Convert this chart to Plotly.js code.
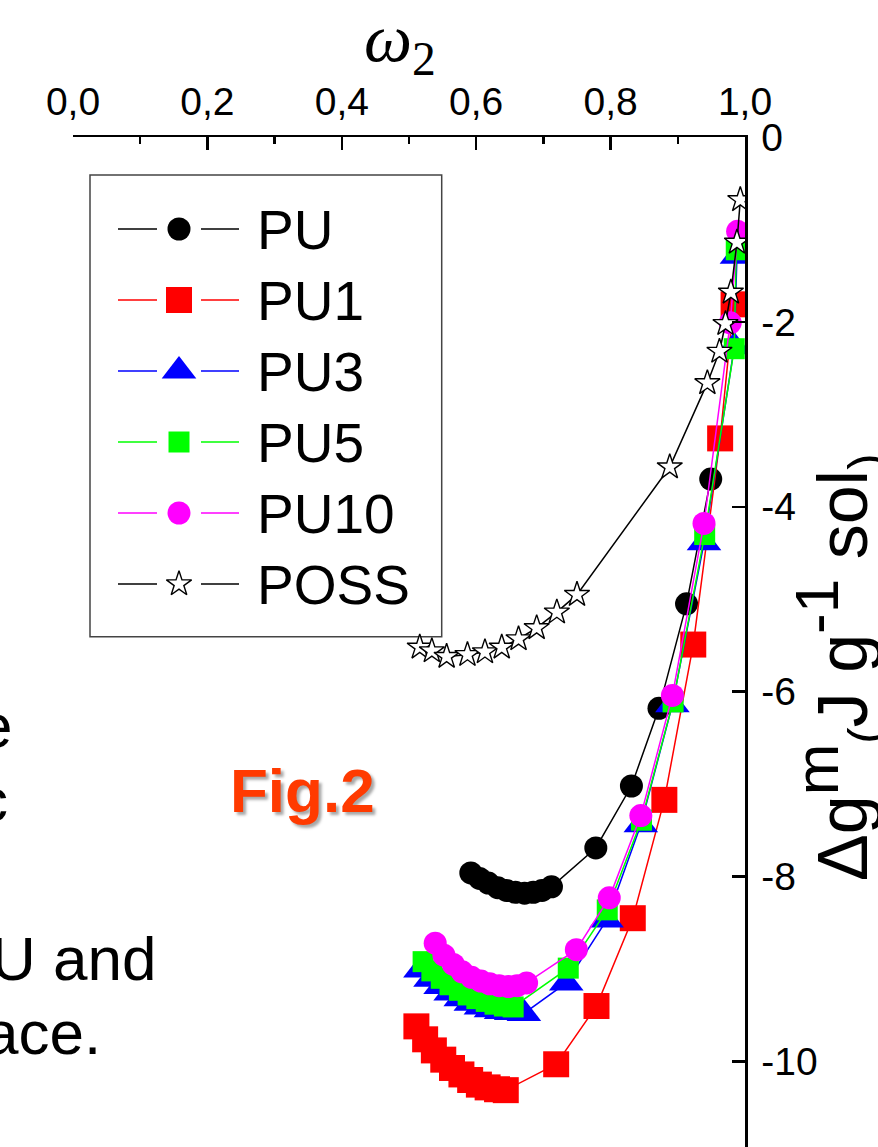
<!DOCTYPE html>
<html><head><meta charset="utf-8">
<script src="https://cdn.plot.ly/plotly-3.0.1.min.js"></script>
<style>html,body{margin:0;padding:0;background:#fff;overflow:hidden}#chart{width:878px;height:1147px}</style>
</head><body><div id="chart"></div>
<script>
// ---- data ----
const seriesNames = ['PU', 'PU1', 'PU3', 'PU5', 'PU10', 'POSS'];

const pu_w   = [0.592, 0.605, 0.618, 0.632, 0.645, 0.658, 0.672, 0.685, 0.698, 0.712, 0.778, 0.831, 0.872, 0.913, 0.949];
const pu_g   = [-7.96, -8.02, -8.07, -8.12, -8.15, -8.17, -8.18, -8.17, -8.15, -8.11, -7.69, -7.02, -6.18, -5.05, -3.70];

const pu1_w  = [0.511, 0.524, 0.537, 0.551, 0.564, 0.578, 0.591, 0.604, 0.617, 0.631, 0.644, 0.719, 0.779, 0.833, 0.880, 0.923, 0.963, 0.983];
const pu1_g  = [-9.62, -9.76, -9.88, -9.98, -10.07, -10.14, -10.20, -10.25, -10.28, -10.30, -10.31, -10.03, -9.40, -8.45, -7.17, -5.49, -3.26, -1.81];

const pu3_w  = [0.517, 0.532, 0.547, 0.562, 0.577, 0.592, 0.607, 0.622, 0.637, 0.652, 0.671, 0.734, 0.794, 0.845, 0.892, 0.939, 0.984, 0.988];
const pu3_g  = [-9.01, -9.11, -9.19, -9.26, -9.32, -9.37, -9.41, -9.44, -9.46, -9.47, -9.48, -9.15, -8.47, -7.44, -6.14, -4.39, -2.27, -1.29];

const pu5_w  = [0.521, 0.534, 0.548, 0.561, 0.575, 0.588, 0.601, 0.615, 0.628, 0.642, 0.655, 0.737, 0.795, 0.846, 0.893, 0.940, 0.984, 0.987];
const pu5_g  = [-8.92, -9.02, -9.10, -9.17, -9.23, -9.28, -9.32, -9.35, -9.38, -9.40, -9.41, -8.99, -8.36, -7.39, -6.11, -4.30, -2.29, -1.22];

const pu10_w = [0.539, 0.552, 0.566, 0.579, 0.593, 0.607, 0.620, 0.634, 0.648, 0.661, 0.675, 0.749, 0.798, 0.845, 0.892, 0.939, 0.978, 0.989];
const pu10_g = [-8.72, -8.85, -8.95, -9.03, -9.09, -9.13, -9.16, -9.18, -9.19, -9.18, -9.15, -8.79, -8.23, -7.34, -6.04, -4.18, -2.01, -1.02];

const poss_w = [0.516, 0.534, 0.556, 0.587, 0.613, 0.638, 0.663, 0.690, 0.720, 0.750, 0.888, 0.944, 0.962, 0.971, 0.979, 0.988, 0.993];
const poss_g = [-5.52, -5.56, -5.62, -5.60, -5.57, -5.52, -5.43, -5.31, -5.14, -4.95, -3.57, -2.66, -2.32, -2.02, -1.68, -1.14, -0.68];

const xTickVals = [0, 0.2, 0.4, 0.6, 0.8, 1.0];
const yTickVals = [0, -2, -4, -6, -8, -10];
const yTickText = ['0', '-2', '-4', '-6', '-8', '-10'];

const captionFragments = ['e', 'c', 'U and', 'ace.'];

// ---- styles ----
const seriesX = [pu_w, pu1_w, pu3_w, pu5_w, pu10_w, poss_w];
const seriesY = [pu_g, pu1_g, pu3_g, pu5_g, pu10_g, poss_g];
const lineColors = ['#000000', '#ff0000', '#0000ff', '#00ff00', '#ff00ff', '#000000'];
const fillColors = ['#000000', '#ff0000', '#0000ff', '#00ff00', '#ff00ff', '#ffffff'];
const symbols = ['circle', 'square', 'triangle-up', 'square', 'circle', 'star'];
const sizes = [23, 26, 30, 21, 23, 19];
const edgeW = [0, 0, 0, 0, 0, 1.4];

const FONT = 'Liberation Sans, Arial, Helvetica, sans-serif';
const W = 878, H = 1147;
const PL = 73, PR = 745, PT = 137, PB = 1147;
const px = p => (p - PL) / (PR - PL);
const py = p => (PB - p) / (PB - PT);

const traces = [];
for (let i = 0; i < seriesNames.length; i++) {
  traces.push({
    type: 'scatter', mode: 'lines+markers', name: seriesNames[i],
    x: seriesX[i], y: seriesY[i], showlegend: false,
    line: {color: lineColors[i], width: 1.5},
    marker: {symbol: symbols[i], size: sizes[i], color: fillColors[i],
             line: {color: '#000000', width: edgeW[i]}}
  });
}

// ---- hand-drawn legend (pixel coordinates on an overlay axis) ----
const LEG = {left: 90, top: 175, right: 441.7, bottom: 636.7, row0: 229, step: 71,
             l1: 118, l2: 157, m: 179, r1: 201, r2: 239, text: 255};
const annotations = [];
for (let i = 0; i < seriesNames.length; i++) {
  const ry = LEG.row0 + i * LEG.step;
  traces.push({
    type: 'scatter', mode: 'lines', xaxis: 'x2', yaxis: 'y2', showlegend: false, hoverinfo: 'skip',
    x: [LEG.l1, LEG.l2, null, LEG.r1, LEG.r2], y: [ry, ry, null, ry, ry],
    line: {color: lineColors[i], width: 1.5}, cliponaxis: false
  });
  traces.push({
    type: 'scatter', mode: 'markers', xaxis: 'x2', yaxis: 'y2', showlegend: false, hoverinfo: 'skip',
    x: [LEG.m], y: [ry], cliponaxis: false,
    marker: {symbol: symbols[i], size: sizes[i], color: fillColors[i],
             line: {color: '#000000', width: edgeW[i]}}
  });
  annotations.push({
    xref: 'paper', yref: 'paper', x: px(LEG.text), y: py(ry + 1), xanchor: 'left', yanchor: 'middle',
    text: seriesNames[i], showarrow: false, font: {family: FONT, size: 55, color: '#000'}
  });
}

// axis titles and other texts
annotations.push({
  xref: 'paper', yref: 'paper', x: px(400), y: py(43), xanchor: 'center', yanchor: 'middle',
  text: '<i>ω</i><sub>2</sub>', showarrow: false,
  font: {family: 'Liberation Serif, Times New Roman, serif', size: 68, color: '#000'}
});
annotations.push({
  xref: 'paper', yref: 'paper', x: px(837), y: py(668), xanchor: 'center', yanchor: 'middle',
  textangle: -90, showarrow: false,
  text: 'Δg<sup><span style="font-size:62px">m</span></sup><sub>(</sub>J g<sup><span style="font-size:62px">-1</span></sup> sol<sub>)</sub>',
  font: {family: FONT, size: 70, color: '#000'}
});
annotations.push({
  xref: 'paper', yref: 'paper', x: px(302), y: py(790), xanchor: 'center', yanchor: 'middle',
  text: 'Fig.2', showarrow: false,
  font: {family: FONT, size: 62, color: '#ff3a00', weight: 'bold', shadow: '3px 3px 3px rgba(0,0,0,0.35)'}
});
const capRight = [14, 10, 158, 103];
const capMid = [725, 800, 958, 1032];
for (let i = 0; i < captionFragments.length; i++) {
  annotations.push({
    xref: 'paper', yref: 'paper', x: px(capRight[i]), y: py(capMid[i]), xanchor: 'right', yanchor: 'middle',
    text: captionFragments[i], showarrow: false, font: {family: FONT, size: 62, color: '#000'}
  });
}

const layout = {
  width: W, height: H,
  margin: {l: PL, r: W - PR, t: PT, b: H - PB, pad: 0},
  paper_bgcolor: '#ffffff', plot_bgcolor: 'rgba(0,0,0,0)',
  separators: ', ',
  showlegend: false,
  xaxis: {
    side: 'top', range: [0, 1], tickvals: xTickVals, tickformat: '.1f',
    ticks: 'inside', ticklen: 13, tickwidth: 2.5, tickcolor: '#000',
    minor: {dtick: 0.1, ticks: 'inside', ticklen: 7, tickwidth: 2.5, tickcolor: '#000', showgrid: false},
    showline: true, linewidth: 2.5, linecolor: '#000', showgrid: false, zeroline: false,
    tickfont: {family: FONT, size: 39, color: '#000'}, ticklabelstandoff: 4
  },
  yaxis: {
    side: 'right', range: [-(PB - PT) / 92.45, 0], tickvals: yTickVals, ticktext: yTickText,
    ticks: 'inside', ticklen: 13, tickwidth: 2.5, tickcolor: '#000',
    showline: true, linewidth: 2.5, linecolor: '#000', showgrid: false, zeroline: false,
    tickfont: {family: FONT, size: 39, color: '#000'}, ticklabelstandoff: 6
  },
  xaxis2: {overlaying: 'x', anchor: 'y2', range: [PL, PR], visible: false, fixedrange: true},
  yaxis2: {overlaying: 'y', anchor: 'x2', range: [PB, PT], visible: false, fixedrange: true},
  shapes: [{
    type: 'rect', xref: 'paper', yref: 'paper',
    x0: px(LEG.left), x1: px(LEG.right), y0: py(LEG.bottom), y1: py(LEG.top),
    line: {color: '#444', width: 1.5}, fillcolor: 'rgba(0,0,0,0)', layer: 'below'
  }],
  annotations: annotations
};

Plotly.newPlot('chart', traces, layout, {displayModeBar: false, staticPlot: true});
</script>
</body></html>
